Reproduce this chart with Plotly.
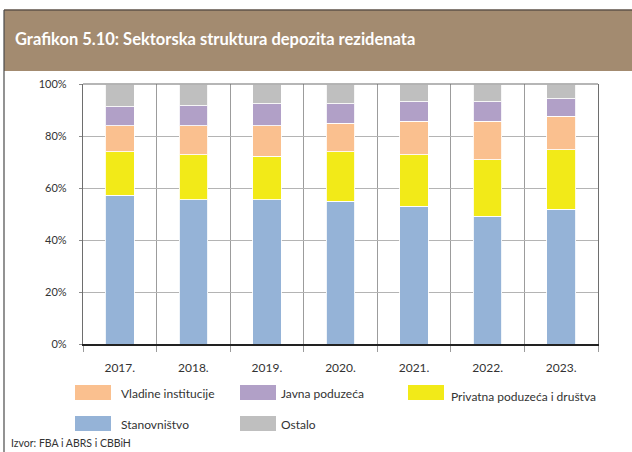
import plotly.graph_objects as go

# Sectoral structure of resident deposits, share in % (end of year)
years = ["2017.", "2018.", "2019.", "2020.", "2021.", "2022.", "2023."]
stanovnistvo = [57.2, 55.4, 55.4, 54.9, 53.0, 49.2, 51.8]
privatna = [16.8, 17.4, 16.8, 19.1, 19.8, 21.7, 23.0]
vladine = [9.9, 11.1, 11.7, 10.9, 12.9, 14.8, 12.8]
javna = [7.3, 7.7, 8.6, 7.5, 7.5, 7.5, 6.7]
ostalo = [8.8, 8.4, 7.5, 7.6, 6.8, 6.8, 5.7]
y_ticks = [0, 20, 40, 60, 80, 100]
y_tick_labels = ["0%", "20%", "40%", "60%", "80%", "100%"]

series_names = ["Stanovništvo", "Privatna poduzeća i društva", "Vladine institucije",
                "Javna poduzeća", "Ostalo"]
series_values = [stanovnistvo, privatna, vladine, javna, ostalo]
series_colors = ["#95B3D7", "#F2EA18", "#FAC08F", "#B1A0C7", "#BFBFBF"]

FONT = "Lato"
W, H = 632, 452
L, R, T, B = 83, 598, 84, 344   # plot area in pixels


def px(x):
    return (x - L) / (R - L)


def py(y):
    return (B - y) / (B - T)


fig = go.Figure()
for name, vals, col in zip(series_names, series_values, series_colors):
    fig.add_trace(go.Bar(
        x=years, y=vals, name=name, width=0.39,
        marker=dict(color=col, line=dict(color="rgba(255,255,255,0.85)", width=1)),
        showlegend=False,
    ))

shapes = []
# header band
shapes.append(dict(type="rect", xref="paper", yref="paper", x0=px(4), x1=px(W + 5),
                   y0=py(71), y1=py(10), fillcolor="#A38B70", line=dict(width=0), layer="below"))
shapes.append(dict(type="line", xref="paper", yref="paper", x0=px(4), x1=px(W + 5),
                   y0=py(10), y1=py(10), line=dict(color="#5E5248", width=1.5)))
# page frame on the left
shapes.append(dict(type="line", xref="paper", yref="paper", x0=px(4), x1=px(4),
                   y0=py(10), y1=py(H + 5), line=dict(color="#4A4A4A", width=1.2)))
# top border of the plot area
shapes.append(dict(type="line", xref="paper", yref="paper", x0=0, x1=1, y0=1, y1=1,
                   line=dict(color="#6E6E6E", width=1.2)))

annotations = [dict(
    text="Grafikon 5.10: Sektorska struktura depozita rezidenata",
    xref="paper", yref="paper", x=px(13), y=py(39), xanchor="left", yanchor="middle",
    showarrow=False, font=dict(family=FONT, size=16.5, color="white", weight="bold"),
)]

# legend drawn as wide swatches with labels
legend_order = [2, 3, 1, 0, 4]
legend_slots = [(75, 385, 119), (240, 385, 279), (408, 385, 449),
                (75, 416, 119), (240, 416, 279)]
for idx, (sx, sy, tx) in zip(legend_order, legend_slots):
    shapes.append(dict(type="rect", xref="paper", yref="paper", x0=px(sx), x1=px(sx + 36),
                       y0=py(sy + 15), y1=py(sy), fillcolor=series_colors[idx],
                       line=dict(width=0)))
    dy = 3.5 if idx == 1 else 0
    annotations.append(dict(text=series_names[idx], xref="paper", yref="paper",
                            x=px(tx), y=py(sy + 8 + dy), xanchor="left", yanchor="middle",
                            showarrow=False, font=dict(family=FONT, size=12, color="#333333")))

annotations.append(dict(text="Izvor: FBA i ABRS i CBBiH", xref="paper", yref="paper",
                        x=px(9), y=py(451), xanchor="left", yanchor="bottom", showarrow=False,
                        font=dict(family=FONT, size=10.5, color="#333333")))

fig.update_layout(
    width=W, height=H,
    margin=dict(l=L, r=W - R, t=T, b=H - B, pad=0),
    paper_bgcolor="white", plot_bgcolor="white",
    barmode="stack",
    showlegend=False,
    shapes=shapes,
    annotations=annotations,
    font=dict(family=FONT, color="#333333"),
)
fig.update_xaxes(
    type="category", tickson="boundaries", showgrid=True, gridcolor="#9C9C9C", gridwidth=1,
    showline=True, linecolor="#222222", linewidth=1.5,
    ticks="outside", ticklen=6, tickcolor="#9C9C9C",
    tickfont=dict(family=FONT, size=12, color="#333333"),
    ticklabelstandoff=12,
)
fig.update_yaxes(
    range=[0, 100], tickvals=y_ticks, ticktext=y_tick_labels,
    showgrid=True, gridcolor="#B4B4B4", gridwidth=1,
    showline=True, linecolor="#6E6E6E", linewidth=1.2, mirror=True,
    ticks="outside", ticklen=3, tickcolor="#8A8A8A",
    tickfont=dict(family=FONT, size=11, color="#333333"),
    ticklabelstandoff=10, zeroline=False,
)

fig.write_html("out.html")
